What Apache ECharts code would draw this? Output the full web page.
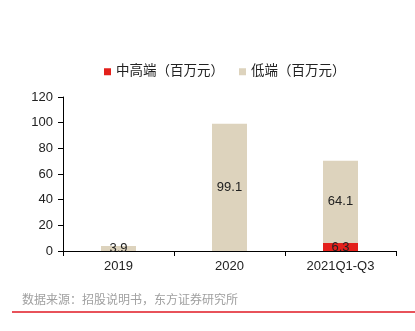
<!DOCTYPE html>
<html><head><meta charset="utf-8">
<script src="https://cdn.jsdelivr.net/npm/echarts@6/dist/echarts.min.js"></script>
<style>html,body{margin:0;padding:0;background:#fff}#c{width:415px;height:331px}</style>
</head><body><div id="c"></div>
<script>
const categories = ['2019', '2020', '2021Q1-Q3'];
const midHigh = [null, null, 6.3];
const low = [3.9, 99.1, 64.1];
const yTicks = [0, 20, 40, 60, 80, 100, 120];
const seriesNames = ['中高端（百万元）', '低端（百万元）'];
const source = '数据来源：招股说明书，东方证券研究所';

const font = '"Liberation Sans", Arial, "Noto Sans CJK SC", sans-serif';
const chart = echarts.init(document.getElementById('c'), null, {renderer: 'canvas'});
chart.setOption({
  animation: false,
  textStyle: {fontFamily: font},
  legend: {
    top: 60, left: 99, itemWidth: 7, itemHeight: 7, itemGap: 15,
    icon: 'rect',
    textStyle: {fontSize: 13.5, color: '#222', fontFamily: font},
    data: seriesNames
  },
  grid: {left: 63, right: 19, top: 97, bottom: 80},
  xAxis: {
    type: 'category', data: categories,
    axisLine: {lineStyle: {color: '#000', width: 1}},
    axisTick: {show: true, length: 5, lineStyle: {color: '#000'}},
    axisLabel: {color: '#222', fontSize: 13, margin: 9}
  },
  yAxis: {
    type: 'value', min: yTicks[0], max: yTicks[yTicks.length - 1], interval: 20,
    axisLine: {show: true, lineStyle: {color: '#000'}},
    axisTick: {show: true, length: 5, lineStyle: {color: '#000'}},
    axisLabel: {color: '#222', fontSize: 13, margin: 10},
    splitLine: {show: false}
  },
  series: [
    {name: seriesNames[0], type: 'bar', stack: 't', data: midHigh, barWidth: 35,
     itemStyle: {color: '#e3201b'},
     label: {show: true, position: 'inside', color: '#222', fontSize: 13}},
    {name: seriesNames[1], type: 'bar', stack: 't', data: low, barWidth: 35,
     itemStyle: {color: '#ddd3bd'},
     label: {show: true, position: 'inside', color: '#222', fontSize: 13}}
  ],
  graphic: [
    {type: 'text', left: 22, top: 295, style: {text: source, fill: '#a0a0a0', fontSize: 12, fontFamily: font}},
    {type: 'line', shape: {x1: 12, y1: 312, x2: 415, y2: 312}, style: {stroke: '#e8525a', lineWidth: 2}}
  ]
});
</script></body></html>
